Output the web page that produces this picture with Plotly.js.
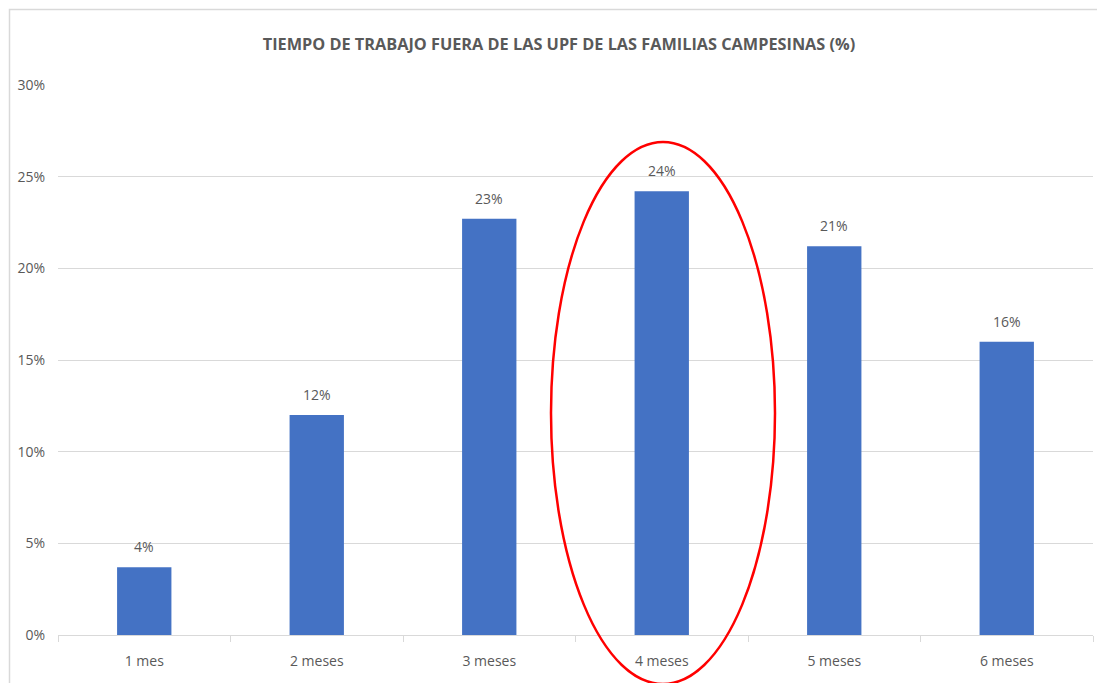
<!DOCTYPE html>
<html><head><meta charset="utf-8">
<script src="https://cdn.plot.ly/plotly-3.0.1.min.js"></script>
<style>html,body{margin:0;padding:0;background:#fff;}#chart{width:1097px;height:683px;}</style>
</head><body><div id="chart"></div>
<script>
const categories = ["1 mes", "2 meses", "3 meses", "4 meses", "5 meses", "6 meses"];
const values = [3.7, 12.0, 22.7, 24.2, 21.2, 16.0];
const yTickVals = [0, 5, 10, 15, 20, 25, 30];
const yTickText = ["0%", "5%", "10%", "15%", "20%", "25%", "30%"];
const titleText = "TIEMPO DE TRABAJO FUERA DE LAS UPF DE LAS FAMILIAS CAMPESINAS (%)";

const FONT = "'Open Sans', sans-serif";
const GREY = "#595959";

const trace = {
  type: "bar",
  x: categories,
  y: values,
  marker: {color: "#4472C4"},
  hoverinfo: "x+y"
};

const annotations = categories.map((c, i) => ({
  x: c, y: values[i], xref: "x", yref: "y",
  text: Math.round(values[i]) + "%",
  showarrow: false, yanchor: "bottom", yshift: 9,
  font: {family: FONT, size: 14, color: GREY}
}));

const layout = {
  width: 1097, height: 683,
  margin: {l: 58, r: 4, t: 85, b: 48},
  paper_bgcolor: "#fff", plot_bgcolor: "#fff",
  bargap: 0.685,
  showlegend: false,
  title: {text: "<b>" + titleText + "</b>", x: 559/1097, xref: "container", xanchor: "center",
          y: 1 - 44/683, yref: "container", yanchor: "middle",
          font: {family: FONT, size: 16.3, color: GREY}},
  xaxis: {
    type: "category",
    showgrid: false, zeroline: false,
    showline: true, linecolor: "#d9d9d9", linewidth: 1,
    ticks: "outside", ticklen: 6, tickcolor: "#d9d9d9", tickson: "boundaries",
    tickfont: {family: FONT, size: 14, color: GREY},
    ticklabelstandoff: 13
  },
  yaxis: {
    range: [0, 30], tickvals: yTickVals, ticktext: yTickText,
    showgrid: true, gridcolor: "#d9d9d9", gridwidth: 1,
    zeroline: false, showline: false, ticks: "",
    tickfont: {family: FONT, size: 14, color: GREY},
    ticklabelstandoff: 12
  },
  annotations: annotations,
  shapes: [
    {type: "rect", xref: "paper", yref: "paper",
     x0: (9.5-58)/1035, x1: (1110-58)/1035, y0: (635-700)/550, y1: (635-9.5)/550,
     line: {color: "#d9d9d9", width: 1.5}, fillcolor: "rgba(0,0,0,0)", layer: "below"},
    {type: "circle", xref: "paper", yref: "paper",
     x0: (551-58)/1035, x1: (775-58)/1035, y0: (635-684)/550, y1: (635-142)/550,
     line: {color: "#FF0000", width: 2.5}, fillcolor: "rgba(0,0,0,0)"}
  ]
};

Plotly.newPlot("chart", [trace], layout, {displayModeBar: false, staticPlot: true});
</script></body></html>
